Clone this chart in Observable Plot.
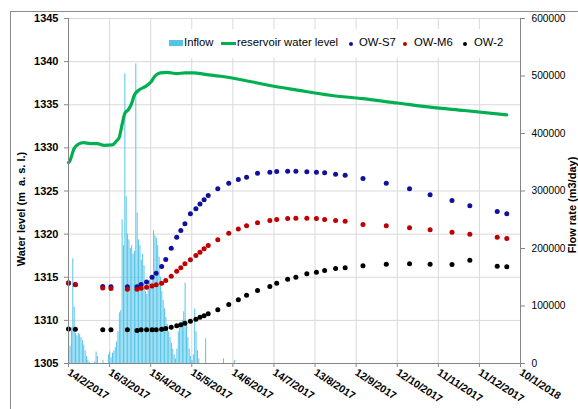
<!DOCTYPE html>
<html><head><meta charset="utf-8">
<script src="https://cdn.jsdelivr.net/npm/d3@7"></script>
<script src="https://cdn.jsdelivr.net/npm/@observablehq/plot@0.6"></script>
<style>
body{margin:0;background:#fff;}
#wrap{position:relative;width:578px;height:409px;overflow:hidden;font-family:"Liberation Sans",Arial,sans-serif;color:#000;}
#frame{position:absolute;left:10px;top:11px;width:700px;height:500px;border-left:1px solid #8c8c8c;border-top:1px solid #8c8c8c;}
#chart{position:absolute;left:0;top:0;}
#legend{position:absolute;left:163px;top:29px;width:350px;height:29px;background:#fff;font-size:11.3px;}
#legend span{position:absolute;white-space:nowrap;}
.ytitle{position:absolute;font-weight:bold;font-size:11px;white-space:nowrap;transform:translate(-50%,-50%) rotate(-90deg);}
</style>
</head><body>
<div id="wrap">
<div id="frame"></div>
<div id="chart"></div>
<div id="legend"></div>
<div class="ytitle" style="left:21px;top:209px;">Water level (m&nbsp; a. s. l.)</div>
<div class="ytitle" style="left:571.5px;top:205px;">Flow rate (m3/day)</div>
</div>
<script>
// ---- data ----
const xTickLabels = ["14/2/2017","16/3/2017","15/4/2017","15/5/2017","14/6/2017","14/7/2017","13/8/2017","12/9/2017","12/10/2017","11/11/2017","11/12/2017","10/1/2018"];
const levelTicks = [1305,1310,1315,1320,1325,1330,1335,1340,1345];
const flowTicks = [0,100000,200000,300000,400000,500000,600000];

const reservoirDates = ["2017-02-14","2017-02-15","2017-02-18","2017-02-21","2017-02-25","2017-03-02","2017-03-07","2017-03-12","2017-03-18","2017-03-21","2017-03-23","2017-03-25","2017-03-27","2017-03-30","2017-04-01","2017-04-03","2017-04-06","2017-04-11","2017-04-15","2017-04-18","2017-04-22","2017-04-27","2017-05-04","2017-05-10","2017-05-16","2017-05-26","2017-06-05","2017-06-20","2017-07-12","2017-07-31","2017-08-24","2017-09-17","2017-10-12","2017-11-05","2017-11-30","2017-12-31"];
const reservoirLevel = [1328.3,1328.5,1329.9,1330.4,1330.6,1330.5,1330.5,1330.3,1330.35,1330.8,1331.2,1332.6,1333.95,1334.5,1335.1,1336.1,1336.65,1337.1,1337.6,1338.3,1338.7,1338.75,1338.6,1338.7,1338.7,1338.5,1338.3,1337.9,1337.2,1336.7,1336.1,1335.7,1335.2,1334.72,1334.33,1333.83];

const wellDates = ["2017-02-14","2017-02-19","2017-03-11","2017-03-17","2017-03-29","2017-04-05","2017-04-08","2017-04-12","2017-04-16","2017-04-19","2017-04-23","2017-04-26","2017-04-30","2017-05-04","2017-05-07","2017-05-10","2017-05-14","2017-05-18","2017-05-21","2017-05-24","2017-05-27","2017-06-03","2017-06-11","2017-06-18","2017-06-24","2017-07-02","2017-07-11","2017-07-16","2017-07-24","2017-07-30","2017-08-07","2017-08-14","2017-08-20","2017-08-28","2017-09-04","2017-09-17","2017-10-04","2017-10-21","2017-11-05","2017-11-21","2017-12-04","2017-12-24","2017-12-31"];
const owS7 = [1314.3,1314.15,1313.93,1313.9,1313.9,1313.9,1314.16,1314.45,1315.0,1315.47,1316.25,1317.05,1318.37,1319.64,1320.42,1321.2,1322.35,1322.93,1323.5,1323.98,1324.48,1325.25,1325.9,1326.32,1326.6,1327.06,1327.18,1327.26,1327.3,1327.3,1327.23,1327.18,1327.11,1326.95,1326.83,1326.45,1325.9,1325.26,1324.56,1323.9,1323.28,1322.62,1322.36];
const owM6 = [1314.35,1314.12,1313.75,1313.7,1313.62,1313.62,1313.73,1313.85,1314.0,1314.12,1314.31,1314.62,1315.12,1315.7,1316.1,1316.56,1317.02,1317.52,1317.9,1318.3,1318.68,1319.34,1320.1,1320.58,1320.97,1321.31,1321.58,1321.7,1321.81,1321.85,1321.85,1321.81,1321.7,1321.58,1321.5,1321.12,1320.97,1320.73,1320.5,1320.22,1319.99,1319.64,1319.49];
const ow2 = [1309.0,1308.98,1308.9,1308.9,1308.9,1308.83,1308.9,1308.9,1308.9,1308.9,1308.98,1309.06,1309.2,1309.37,1309.5,1309.67,1309.9,1310.13,1310.37,1310.53,1310.76,1311.23,1311.84,1312.38,1312.92,1313.46,1313.93,1314.31,1314.77,1315.0,1315.4,1315.59,1315.78,1316.01,1316.1,1316.33,1316.51,1316.56,1316.51,1316.48,1316.98,1316.28,1316.21];

// daily inflow (m3/day), first day 2017-02-14
const inflowStart = "2017-02-14";
const inflow = [57000,30000,62000,182000,98000,52000,48000,52000,50000,45000,
40000,32000,22000,12000,6000,2000,0,0,0,3000,
20000,12000,0,0,0,5000,0,0,0,15000,
20000,10000,18000,22000,28000,38000,55000,88000,92000,250000,
205000,504000,290000,225000,215000,200000,205000,190000,195000,521000,
262000,215000,205000,180000,190000,170000,125000,120000,140000,145000,
140000,150000,231000,222000,218000,205000,185000,150000,125000,110000,
95000,80000,68000,55000,45000,35000,25000,15000,8000,25000,
55000,62000,70000,75000,90000,140000,70000,45000,25000,12000,
5000,15000,95000,55000,22000,8000,0,0,0,0,
43000,0,0,0,0,0,0,0,0,0,
0,0,0,8000,0,0,0,0,0,0,
0,5000];

// ---- build ----
const parseIso = d3.utcParse("%Y-%m-%d");
const parseTick = d3.utcParse("%d/%m/%Y");
const fmtTick = d3.utcFormat("%-d/%-m/%Y");
const tickDates = xTickLabels.map(parseTick);
const xStart = tickDates[0], xEnd = tickDates[tickDates.length - 1];
const flowMax = 600000, yMin = 1305, yMax = 1345;
const flowToY = f => yMin + f / flowMax * (yMax - yMin);
const yToFlow = y => Math.round((y - yMin) / (yMax - yMin) * flowMax);

const start = parseIso(inflowStart);
const inflowData = inflow.map((v, i) => ({d0: d3.utcDay.offset(start, i), d1: d3.utcDay.offset(start, i + 1), v}));
const levelData = reservoirDates.map((d, i) => ({date: parseIso(d), level: reservoirLevel[i]}));
const wells = [["OW-S7", owS7, "#10109c"], ["OW-M6", owM6, "#c00000"], ["OW-2", ow2, "#000000"]];

const gridColor = "#d9d9d9", axisColor = "#868686", barColor = "#52c3e9";

const chart = Plot.plot({
  width: 578, height: 409,
  marginLeft: 68, marginRight: 58, marginTop: 18, marginBottom: 46,
  style: {fontFamily: "Liberation Sans, Arial, sans-serif", background: "transparent", color: "#000", overflow: "visible"},
  x: {type: "utc", domain: [xStart, xEnd]},
  y: {domain: [yMin, yMax]},
  marks: [
    Plot.gridX(tickDates, {stroke: gridColor, strokeOpacity: 1}),
    Plot.gridY(levelTicks, {stroke: gridColor, strokeOpacity: 1}),
    Plot.rect(inflowData, {x1: "d0", x2: "d1", y1: yMin, y2: d => flowToY(d.v), fill: barColor, insetLeft: 0.2, insetRight: 0.2}),
    Plot.line(levelData, {x: "date", y: "level", stroke: "#00b050", strokeWidth: 3.2, curve: "monotone-x"}),
    ...wells.map(([name, vals, col]) => Plot.dot(wellDates.map((d, i) => ({date: parseIso(d), v: vals[i]})), {x: "date", y: "v", r: 2.5, fill: col, stroke: "none"})),
    Plot.ruleX([xStart], {stroke: axisColor}),
    Plot.ruleX([xEnd], {stroke: axisColor}),
    Plot.ruleY([yMin], {stroke: axisColor}),
    Plot.axisY({ticks: levelTicks, tickFormat: d => String(d), tickSize: 4, tickPadding: 6, label: null, fontWeight: "bold", fontSize: 11, stroke: axisColor}),
    Plot.axisY({anchor: "right", ticks: flowTicks.map(flowToY), tickFormat: y => String(yToFlow(y)), tickSize: 4, tickPadding: 7, label: null, fontSize: 10.2, stroke: axisColor}),
    Plot.axisX({ticks: tickDates, tickFormat: fmtTick, tickRotate: 33, tickSize: 4, tickPadding: 4, label: null, fontWeight: "bold", fontSize: 10.5, stroke: axisColor})
  ]
});
document.getElementById("chart").appendChild(chart);

// legend
const lg = document.getElementById("legend");
const ox = 163, oy = 29;
function add(html, left, top, style) {
  const s = document.createElement("span");
  s.innerHTML = html;
  s.style.left = (left - ox) + "px";
  s.style.top = (top - oy) + "px";
  if (style) Object.assign(s.style, style);
  lg.appendChild(s);
}
add("", 169, 40, {width: "14px", height: "6px", background: barColor});
add("Inflow", 184, 36);
add("", 221, 42, {width: "15px", height: "3px", background: "#00b050"});
add("reservoir water level", 237, 36);
const dotItems = [[349, 359, "OW-S7", "#10109c"], [403, 414, "OW-M6", "#c00000"], [463, 474, "OW-2", "#000"]];
for (const [dx, tx, name, col] of dotItems) {
  add("", dx, 41.5, {width: "4px", height: "4px", borderRadius: "50%", background: col});
  add(name, tx, 36);
}
</script>
</body></html>
